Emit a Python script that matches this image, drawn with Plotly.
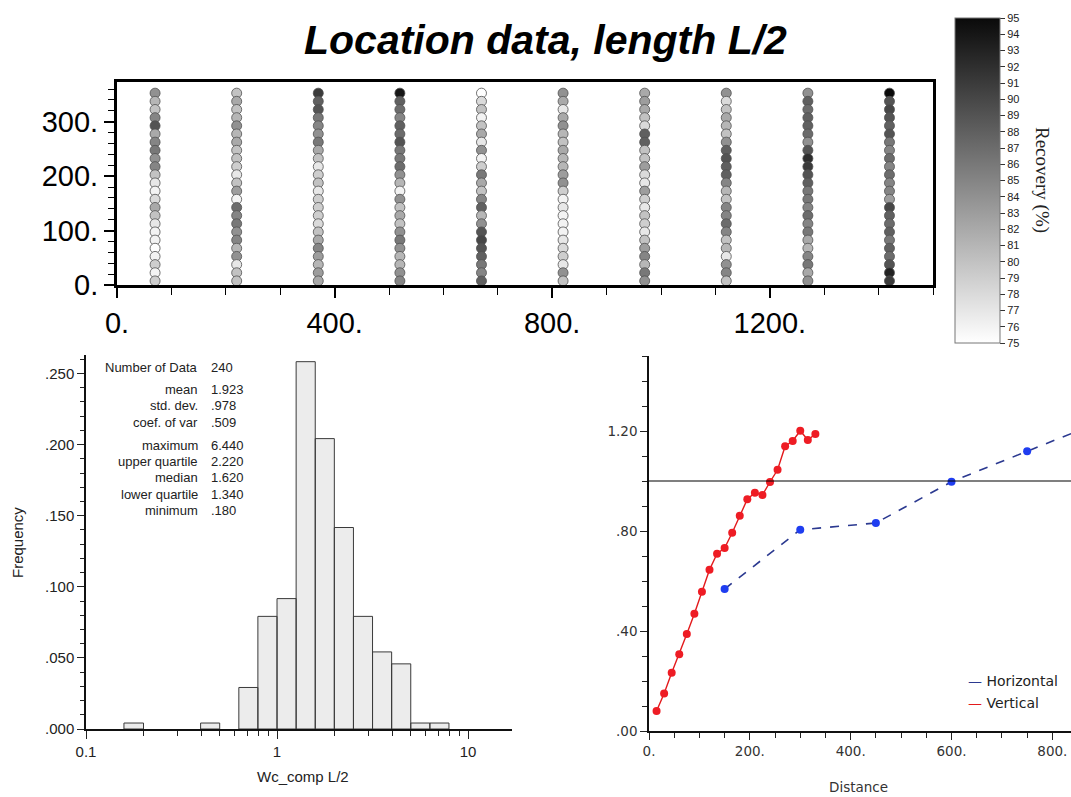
import plotly.graph_objects as go

W, H = 1071, 797

# ---------------- data ----------------
hole_x = [70, 220, 370, 520, 670, 820, 970, 1120, 1270, 1420]
sample_y = [352.5, 337.5, 322.5, 307.5, 292.5, 277.5, 262.5, 247.5, 232.5, 217.5, 202.5, 187.5,
            172.5, 157.5, 142.5, 127.5, 112.5, 97.5, 82.5, 67.5, 52.5, 37.5, 22.5, 7.5]
# recovery (%) per hole, top to bottom
recovery = [
    [84, 81, 80, 85, 89, 82, 85, 86, 84, 85, 80, 77, 76, 78, 82, 80, 77, 76, 76, 75, 76, 79, 76, 79],
    [80, 82, 80, 81, 84, 81, 82, 80, 80, 79, 77, 80, 83, 76, 87, 85, 86, 84, 85, 81, 84, 77, 80, 80],
    [91, 88, 89, 86, 85, 84, 86, 82, 80, 77, 79, 80, 77, 79, 79, 79, 78, 80, 82, 85, 83, 81, 83, 82],
    [94, 88, 87, 85, 88, 87, 89, 86, 86, 87, 84, 81, 76, 84, 80, 82, 80, 84, 86, 84, 81, 81, 84, 85],
    [75, 78, 80, 76, 80, 82, 77, 84, 76, 79, 86, 82, 80, 85, 88, 81, 84, 89, 90, 89, 88, 86, 85, 88],
    [84, 82, 77, 82, 84, 81, 80, 82, 81, 81, 83, 84, 79, 76, 77, 76, 76, 76, 77, 78, 79, 77, 84, 80],
    [82, 83, 82, 80, 78, 88, 88, 80, 80, 83, 78, 77, 83, 79, 77, 80, 79, 77, 80, 83, 85, 81, 86, 84],
    [84, 78, 80, 82, 81, 80, 84, 88, 89, 88, 88, 85, 81, 80, 85, 85, 87, 85, 80, 81, 77, 84, 85, 80],
    [84, 88, 87, 88, 88, 87, 84, 89, 92, 91, 89, 88, 86, 86, 85, 87, 85, 86, 82, 81, 85, 86, 82, 84],
    [95, 89, 90, 89, 88, 89, 86, 85, 87, 85, 87, 85, 85, 83, 90, 88, 87, 88, 86, 88, 87, 89, 93, 91],
]

# histogram (log bins)
bin_lo = [0.158, 0.398, 0.631, 0.794, 1.000, 1.259, 1.585, 1.995, 2.512, 3.162, 3.981, 5.012, 6.310]
bin_hi = [0.200, 0.501, 0.794, 1.000, 1.259, 1.585, 1.995, 2.512, 3.162, 3.981, 5.012, 6.310, 7.943]
freq = [0.0042, 0.0042, 0.0292, 0.0792, 0.0917, 0.2583, 0.2042, 0.1417, 0.0792, 0.0542, 0.0458, 0.0042, 0.0042]

stat_labels = ["Number of Data", "mean", "std. dev.", "coef. of var", "maximum",
               "upper quartile", "median", "lower quartile", "minimum"]
stat_values = ["240", "1.923", ".978", ".509", "6.440", "2.220", "1.620", "1.340", ".180"]

# variograms
vert_lag = [15, 30, 45, 60, 75, 90, 105, 120, 135, 150, 165, 180, 195, 210, 225, 240, 255, 270,
            285, 300, 315, 330]
vert_gamma = [0.08, 0.15, 0.233, 0.307, 0.388, 0.469, 0.557, 0.645, 0.709, 0.732, 0.793, 0.861,
              0.927, 0.953, 0.944, 0.996, 1.045, 1.139, 1.16, 1.201, 1.164, 1.188]
horiz_lag = [150, 300, 450, 600, 750, 900]
horiz_gamma = [0.568, 0.805, 0.832, 0.997, 1.119, 1.24]
sill = 1.0

top_xticks = [0, 400, 800, 1200]
top_xtext = ["0.", "400.", "800.", "1200."]
top_yticks = [0, 100, 200, 300]
top_ytext = ["0.", "100.", "200.", "300."]
hist_xticks = [0.1, 1, 10]
hist_xtext = ["0.1", "1", "10"]
hist_xminor = [0.2, 0.3, 0.4, 0.5, 0.6, 0.7, 0.8, 0.9, 2, 3, 4, 5, 6, 7, 8, 9]
hist_yticks = [0, 0.05, 0.1, 0.15, 0.2, 0.25]
hist_ytext = [".000", ".050", ".100", ".150", ".200", ".250"]
vg_xticks = [0, 200, 400, 600, 800]
vg_xtext = ["0.", "200.", "400.", "600.", "800."]
vg_yticks = [0, 0.4, 0.8, 1.2]
vg_ytext = [".00", ".40", ".80", "1.20"]
cb_ticks = list(range(75, 96))


def fx(p):
    return p / W


def fy(p):
    return 1 - p / H


fig = go.Figure()

# ---------- top location plot ----------
xs, ys, cs = [], [], []
for hx, col in zip(hole_x, recovery):
    for yy, v in zip(sample_y, col):
        xs.append(hx)
        ys.append(yy)
        cs.append(v)

fig.add_trace(go.Scatter(
    x=xs, y=ys, mode="markers", xaxis="x", yaxis="y", showlegend=False,
    marker=dict(size=10, color=cs, cmin=75, cmax=95,
                colorscale=[[0, "#ffffff"], [1, "#0a0a0a"]],
                line=dict(color="#505050", width=0.8),
                colorbar=dict(
                    x=fx(955), xanchor="left", xpad=0, ypad=0,
                    y=fy(180.5), yanchor="middle",
                    lenmode="pixels", len=325,
                    thicknessmode="pixels", thickness=45,
                    outlinewidth=1, outlinecolor="#777",
                    tickvals=cb_ticks, ticks="outside", ticklen=5, tickcolor="#333",
                    tickfont=dict(size=11, family="Liberation Sans, Arial", color="#222"),
                ))))

# ---------- histogram ----------
hx_poly, hy_poly = [], []
for lo, hi, f in zip(bin_lo, bin_hi, freq):
    hx_poly += [lo, lo, hi, hi, lo, None]
    hy_poly += [0, f, f, 0, 0, None]
fig.add_trace(go.Scatter(
    x=hx_poly, y=hy_poly, mode="lines", fill="toself", fillcolor="#ececec",
    line=dict(color="#3a3a3a", width=1), xaxis="x2", yaxis="y2", showlegend=False))

# ---------- variogram ----------
fig.add_trace(go.Scatter(
    x=horiz_lag, y=horiz_gamma, mode="lines+markers", xaxis="x3", yaxis="y3", showlegend=False,
    line=dict(color="#2b3990", width=1.6, dash="dash"),
    marker=dict(color="#1f3df0", size=8)))
fig.add_trace(go.Scatter(
    x=vert_lag, y=vert_gamma, mode="lines+markers", xaxis="x3", yaxis="y3", showlegend=False,
    line=dict(color="#e31a1c", width=1.4),
    marker=dict(color="#ee1c24", size=8)))
fig.add_shape(type="line", xref="x3 domain", yref="y3", x0=0, x1=1, y0=sill, y1=sill,
              line=dict(color="black", width=1.2))

big = dict(family="Liberation Sans Narrow, Liberation Sans, Arial", size=29, color="black")
small = dict(family="Liberation Sans Narrow, Liberation Sans, Arial", size=15, color="#222")
vgf = dict(family="DejaVu Sans, Verdana", size=13.5, color="#333")

fig.update_layout(
    width=W, height=H, margin=dict(l=0, r=0, t=0, b=0),
    paper_bgcolor="white", plot_bgcolor="white",
    xaxis=dict(domain=[fx(117), fx(933)], range=[0, 1500], anchor="y", automargin=False,
               tickvals=top_xticks, ticktext=top_xtext, ticks="outside", ticklen=10,
               tickwidth=1.5, tickcolor="black",
               minor=dict(dtick=100, ticks="outside", ticklen=7, tickwidth=1.2, tickcolor="black"),
               showline=True, linewidth=3, linecolor="black", mirror=True,
               showgrid=False, zeroline=False, tickfont=big),
    yaxis=dict(domain=[fy(285), fy(82)], range=[0, 373], anchor="x", automargin=False,
               tickvals=top_yticks, ticktext=top_ytext, ticks="outside", ticklen=10,
               tickwidth=1.5, tickcolor="black",
               minor=dict(dtick=20, ticks="outside", ticklen=6, tickwidth=1.2, tickcolor="black"),
               showline=True, linewidth=3, linecolor="black", mirror=True,
               showgrid=False, zeroline=False, tickfont=big),
    xaxis2=dict(domain=[fx(86), fx(512)], type="log", range=[-1, 1.23], anchor="y2",
                automargin=False,
                tickvals=hist_xticks, ticktext=hist_xtext, ticks="outside", ticklen=8,
                tickcolor="#222",
                minor=dict(tickvals=hist_xminor, ticks="outside", ticklen=5, tickcolor="#222"),
                showline=True, linewidth=2, linecolor="#111",
                showgrid=False, zeroline=False, tickfont=small),
    yaxis2=dict(domain=[fy(729), fy(355)], range=[0, 0.263], anchor="x2", automargin=False,
                tickvals=hist_yticks, ticktext=hist_ytext, ticks="outside", ticklen=7,
                tickcolor="#222",
                minor=dict(dtick=0.01, ticks="outside", ticklen=4, tickcolor="#222"),
                showline=True, linewidth=1.5, linecolor="#111",
                showgrid=False, zeroline=False, tickfont=small),
    xaxis3=dict(domain=[fx(649), 1.0], range=[0, 837], anchor="y3", automargin=False,
                tickvals=vg_xticks, ticktext=vg_xtext, ticks="outside", ticklen=7,
                tickcolor="#222",
                minor=dict(dtick=50, ticks="outside", ticklen=5, tickcolor="#222"),
                showline=True, linewidth=1.5, linecolor="#111",
                showgrid=False, zeroline=False, tickfont=vgf),
    yaxis3=dict(domain=[fy(731), fy(356)], range=[0, 1.5], anchor="x3", automargin=False,
                tickvals=vg_yticks, ticktext=vg_ytext, ticks="outside", ticklen=7,
                tickcolor="#222",
                minor=dict(dtick=0.1, ticks="outside", ticklen=5, tickcolor="#222"),
                showline=True, linewidth=1.5, linecolor="#111",
                showgrid=False, zeroline=False, tickfont=vgf),
)

ann = []
ann.append(dict(text="<b><i>Location data, length L/2</i></b>", x=fx(545), y=fy(40),
                xref="paper", yref="paper", showarrow=False, xanchor="center", yanchor="middle",
                font=dict(family="Liberation Sans, Arial", size=41, color="black")))
ann.append(dict(text="Recovery (%)", x=fx(1042), y=fy(180), xref="paper", yref="paper",
                showarrow=False, textangle=90, xanchor="center", yanchor="middle",
                font=dict(family="Liberation Serif, Times New Roman", size=19, color="#222")))

stat_y = [367, 389, 405, 422, 445, 461, 477, 494, 510]
sf = dict(family="Liberation Sans, Arial", size=13, color="#222")
for lab, val, yy in zip(stat_labels, stat_values, stat_y):
    ann.append(dict(text=lab, x=fx(200), y=fy(yy), xref="paper", yref="paper", showarrow=False,
                    xanchor="right", yanchor="middle", font=sf))
    ann.append(dict(text=val, x=fx(209), y=fy(yy), xref="paper", yref="paper", showarrow=False,
                    xanchor="left", yanchor="middle", font=sf))

tf = dict(family="Liberation Sans, Arial", size=15, color="#222")
ann.append(dict(text="Frequency", x=fx(17), y=fy(543), xref="paper", yref="paper", showarrow=False,
                textangle=-90, xanchor="center", yanchor="middle", font=tf))
ann.append(dict(text="Wc_comp L/2", x=fx(303), y=fy(776), xref="paper", yref="paper",
                showarrow=False, xanchor="center", yanchor="middle", font=tf))
ann.append(dict(text="Distance", x=fx(858), y=fy(787), xref="paper", yref="paper",
                showarrow=False, xanchor="center", yanchor="middle",
                font=dict(family="DejaVu Sans, Verdana", size=13.5, color="#333")))
lf = dict(family="DejaVu Sans, Verdana", size=14, color="#222")
ann.append(dict(text="<span style='color:#2b3990'>—</span> Horizontal", x=fx(966), y=fy(681),
                xref="paper", yref="paper", showarrow=False, xanchor="left", yanchor="middle",
                font=lf))
ann.append(dict(text="<span style='color:#e31a1c'>—</span> Vertical", x=fx(966), y=fy(703),
                xref="paper", yref="paper", showarrow=False, xanchor="left", yanchor="middle",
                font=lf))
fig.update_layout(annotations=ann)

fig.write_html("out.html")
